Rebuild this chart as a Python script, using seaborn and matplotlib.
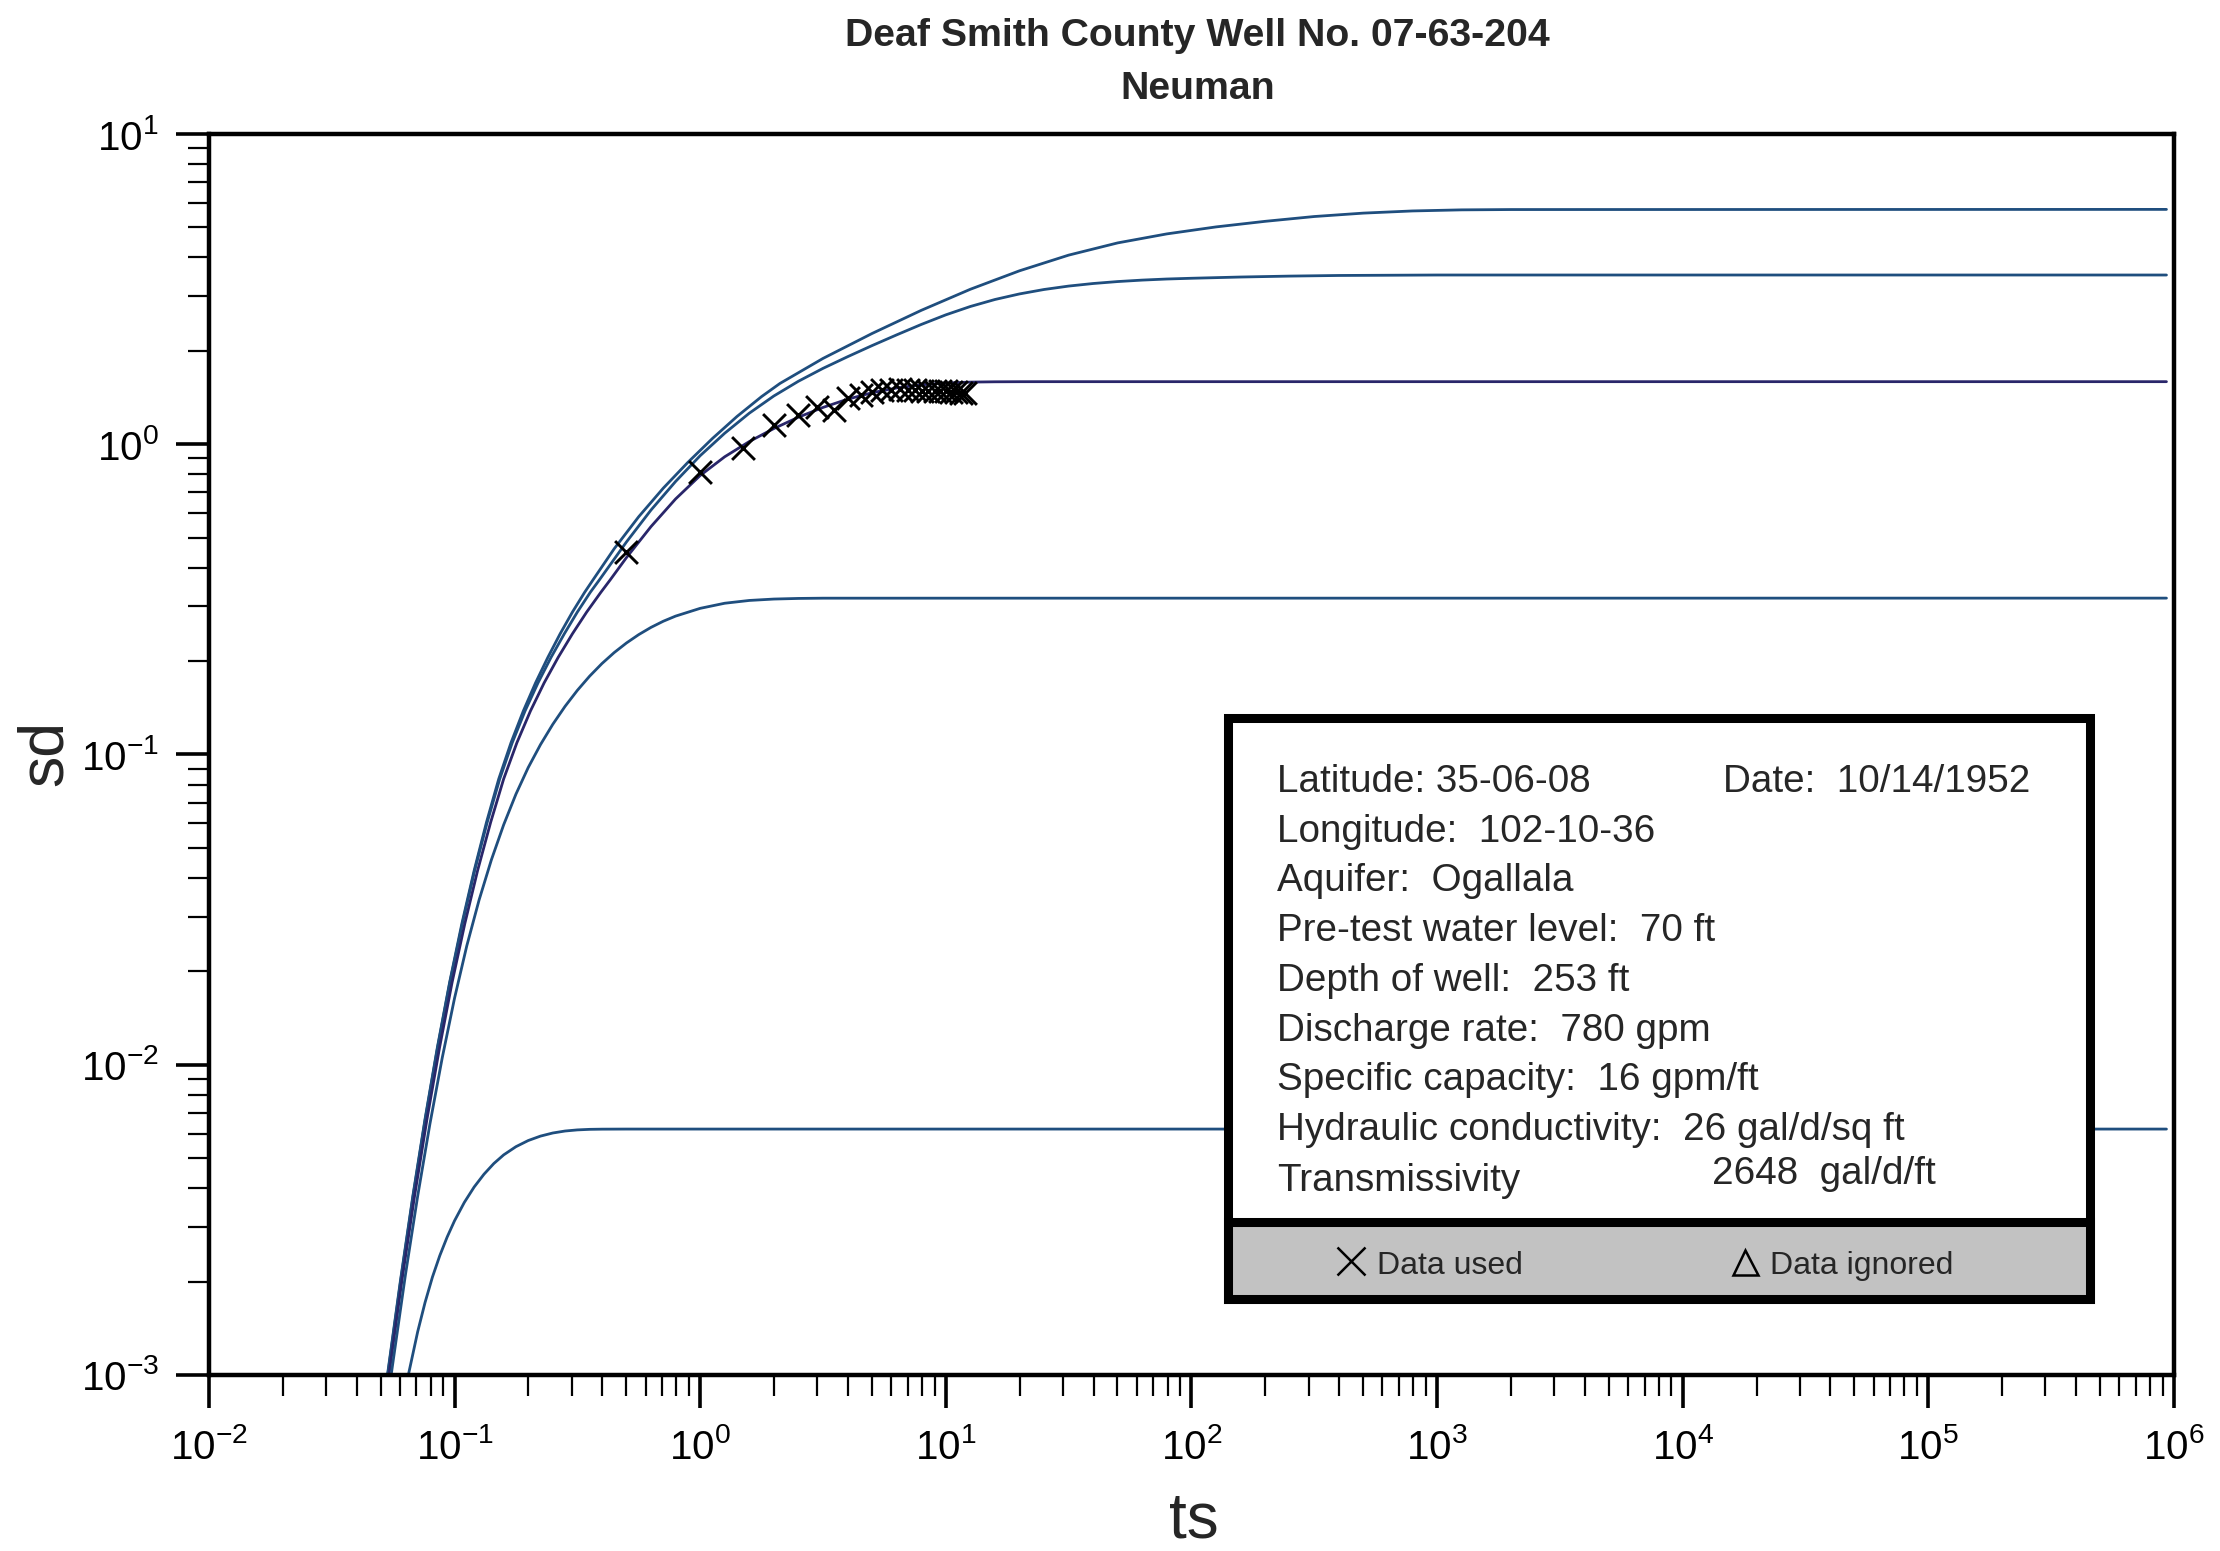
import numpy as np
import pandas as pd
import seaborn as sns
import matplotlib
matplotlib.use('Agg')
import matplotlib.pyplot as plt
from matplotlib.lines import Line2D
from matplotlib.patches import Rectangle
from matplotlib.ticker import LogLocator, NullFormatter

sns.set_theme(style='ticks')
plt.rcParams['font.family'] = ['Liberation Sans', 'DejaVu Sans']
plt.rcParams['axes.unicode_minus'] = False

lg_ts_a = [-1.273, -1.22, -1.17, -1.12, -1.07, -1.02, -0.97, -0.92, -0.87, -0.82, -0.77, -0.72, -0.67, -0.62,
           -0.57, -0.52, -0.47, -0.436, -0.35, -0.25, -0.15, -0.05, 0.05, 0.15, 0.25, 0.325, 0.5, 0.7, 0.9,
           1.1, 1.3, 1.5, 1.7, 1.9, 2.1, 2.3, 2.5, 2.7, 2.9, 3.1, 3.3, 5.97]
lg_sd_a = [-3.0, -2.695, -2.425, -2.175, -1.945, -1.735, -1.545, -1.374, -1.219, -1.079, -0.962, -0.860, -0.769,
           -0.687, -0.611, -0.541, -0.477, -0.437, -0.337, -0.2335, -0.1415, -0.0585, 0.0185, 0.0895, 0.1535,
           0.196, 0.2765, 0.357, 0.4315, 0.4995, 0.559, 0.6095, 0.649, 0.678, 0.7005, 0.7185, 0.734, 0.745,
           0.752, 0.7555, 0.7565, 0.757]

lg_ts_b = [-1.272, -1.219, -1.169, -1.119, -1.069, -1.019, -0.968, -0.918, -0.867, -0.816, -0.765, -0.713,
           -0.660, -0.607, -0.553, -0.500, -0.447, -0.410, -0.3, -0.2, -0.1, 0.0, 0.1, 0.2, 0.3, 0.4, 0.5, 0.6,
           0.7, 0.8, 0.9, 1.0, 1.1, 1.2, 1.3, 1.4, 1.5, 1.6, 1.7, 1.8, 1.9, 2.0, 2.2, 2.4, 2.6, 3.0, 5.97]
lg_sd_b = [-3.0, -2.695, -2.425, -2.175, -1.945, -1.735, -1.545, -1.374, -1.219, -1.079, -0.962, -0.860, -0.769,
           -0.687, -0.611, -0.541, -0.477, -0.437, -0.315, -0.212, -0.120, -0.037, 0.0355, 0.100, 0.1555,
           0.203, 0.2445, 0.282, 0.318, 0.3525, 0.386, 0.417, 0.444, 0.4665, 0.4845, 0.4988, 0.5098, 0.5181,
           0.5244, 0.5291, 0.5326, 0.535, 0.539, 0.542, 0.544, 0.5455, 0.5455]

lg_ts_c = [-1.267, -1.214, -1.163, -1.112, -1.061, -1.010, -0.958, -0.906, -0.853, -0.800, -0.746, -0.691,
           -0.635, -0.578, -0.520, -0.462, -0.404, -0.366, -0.3, -0.2, -0.1, 0.0, 0.1, 0.2, 0.3, 0.4, 0.5, 0.6,
           0.7, 0.8, 0.9, 1.0, 1.1, 1.2, 1.3, 1.4, 5.97]
lg_sd_c = [-3.0, -2.695, -2.425, -2.175, -1.945, -1.735, -1.545, -1.374, -1.219, -1.079, -0.962, -0.860, -0.769,
           -0.687, -0.611, -0.541, -0.477, -0.437, -0.3654, -0.2654, -0.1764, -0.1009, -0.0404, 0.0086, 0.0506,
           0.0871, 0.1186, 0.1451, 0.1661, 0.1814, 0.1916, 0.1975, 0.2003, 0.2013, 0.2016, 0.2017, 0.2017]

lg_ts_d = [-1.258, -1.2, -1.15, -1.1, -1.05, -1.0, -0.95, -0.9, -0.85, -0.8, -0.75, -0.7, -0.65, -0.6, -0.55,
           -0.5, -0.45, -0.4, -0.35, -0.3, -0.25, -0.2, -0.15, -0.1, 0.0, 0.1, 0.2, 0.3, 0.4, 0.5, 5.97]
lg_sd_d = [-3.0, -2.678, -2.4235, -2.1902, -1.9777, -1.7859, -1.6166, -1.4691, -1.3398, -1.2268, -1.128,
           -1.0422, -0.9682, -0.9029, -0.8449, -0.7934, -0.7476, -0.7071, -0.6716, -0.6406, -0.6136, -0.5903,
           -0.5705, -0.554, -0.529, -0.5125, -0.5035, -0.499, -0.497, -0.4962, -0.496]

lg_ts_e = [-1.188, -1.15, -1.12, -1.09, -1.06, -1.03, -1.0, -0.96, -0.92, -0.88, -0.84, -0.8, -0.75, -0.7,
           -0.65, -0.6, -0.55, -0.5, -0.45, -0.4, -0.3, 5.97]
lg_sd_e = [-3.0, -2.8607, -2.7665, -2.6847, -2.6154, -2.5555, -2.5031, -2.4437, -2.3941, -2.3529, -2.3185,
           -2.2907, -2.2642, -2.2444, -2.2301, -2.2201, -2.2137, -2.2101, -2.2083, -2.2077, -2.2074, -2.2074]

# observed drawdown (data used)
ts_obs = [0.5, 1.0, 1.5, 2.0, 2.5, 3.0, 3.5, 4.0, 4.5, 5.0, 5.5, 6.0,
          6.5, 7.0, 7.5, 8.0, 8.5, 9.0, 9.5, 10.0, 10.5, 11.0, 11.5, 12.0]
sd_obs = [0.45, 0.815, 0.97, 1.15, 1.24, 1.32, 1.29, 1.41, 1.44, 1.47, 1.50, 1.50,
          1.51, 1.50, 1.50, 1.49, 1.49, 1.49, 1.48, 1.48, 1.47, 1.47, 1.46, 1.46]

x_ticks = [1e-2, 1e-1, 1e0, 1e1, 1e2, 1e3, 1e4, 1e5, 1e6]
y_ticks = [1e-3, 1e-2, 1e-1, 1e0, 1e1]

info_lines = ['Latitude: 35-06-08', 'Longitude:  102-10-36', 'Aquifer:  Ogallala',
              'Pre-test water level:  70 ft', 'Depth of well:  253 ft', 'Discharge rate:  780 gpm',
              'Specific capacity:  16 gpm/ft', 'Hydraulic conductivity:  26 gal/d/sq ft', 'Transmissivity']

frames = []
for name, lx, ly in [('A', lg_ts_a, lg_sd_a), ('B', lg_ts_b, lg_sd_b), ('C', lg_ts_c, lg_sd_c),
                     ('D', lg_ts_d, lg_sd_d), ('E', lg_ts_e, lg_sd_e)]:
    frames.append(pd.DataFrame({'ts': 10 ** np.array(lx), 'sd': 10 ** np.array(ly), 'curve': name}))
curves = pd.concat(frames, ignore_index=True)
obs = pd.DataFrame({'ts': ts_obs, 'sd': sd_obs})

blue = '#1f4e7e'
navy = '#29266a'
pal = {'A': blue, 'B': blue, 'C': navy, 'D': blue, 'E': blue}

fig = plt.figure(figsize=(22.2, 15.51), dpi=100)
fig.patch.set_facecolor('white')
ax = fig.add_axes([0.0941, 0.1135, 0.8851, 0.8001])
ax.set_xscale('log')
ax.set_yscale('log')

sns.lineplot(data=curves, x='ts', y='sd', hue='curve', palette=pal, estimator=None, sort=False,
             linewidth=2, legend=False, ax=ax)
sns.scatterplot(data=obs, x='ts', y='sd', marker='x', color='black', s=270, linewidth=2.1,
                legend=False, ax=ax, zorder=5)

ax.set_xlim(1e-2, 1e6)
ax.set_ylim(1e-3, 1e1)
ax.set_facecolor('white')
for sp in ax.spines.values():
    sp.set_visible(True)
    sp.set_linewidth(3.2)
    sp.set_color('black')

ax.set_xticks(x_ticks)
ax.set_yticks(y_ticks)
ax.xaxis.set_minor_locator(LogLocator(base=10, subs=np.arange(2, 10), numticks=200))
ax.yaxis.set_minor_locator(LogLocator(base=10, subs=np.arange(2, 10), numticks=200))
ax.xaxis.set_minor_formatter(NullFormatter())
ax.yaxis.set_minor_formatter(NullFormatter())
ax.set_xlim(1e-2, 1e6)
ax.set_ylim(1e-3, 1e1)
narrow = ['Liberation Sans Narrow', 'Liberation Sans']
ax.tick_params(which='major', direction='out', length=24, width=2.6, color='black',
               labelsize=29, pad=14, top=False, right=False, labelcolor='black',
               labelfontfamily=narrow)
ax.tick_params(axis='y', which='major', pad=12)
ax.tick_params(which='minor', direction='out', length=15, width=1.6, color='black', top=False, right=False)
ax.set_xlabel('')
ax.set_ylabel('')

fig.text(0.5378, 0.0085, 'ts', ha='center', va='baseline', fontsize=46, family=narrow)
fig.text(0.0205, 0.5145, 'sd', ha='center', va='center', rotation=90, fontsize=45, family=narrow)

fig.text(0.5395, 0.9765, 'Deaf Smith County Well No. 07-63-204', ha='center', va='center',
         fontsize=28.3, fontweight='bold')
fig.text(0.5395, 0.9425, 'Neuman', ha='center', va='center', fontsize=28.3, fontweight='bold')

# info box
W, H = 2220.0, 1551.0
bx0, bx1, by_top, by_bot, by_sep = 1228 / W, 2090 / W, 1 - 718 / H, 1 - 1299 / H, 1 - 1222 / H
fig.add_artist(Rectangle((bx0, by_bot), bx1 - bx0, by_top - by_bot, transform=fig.transFigure,
                         facecolor='white', edgecolor='black', linewidth=6.5, zorder=2))
fig.add_artist(Rectangle((bx0, by_bot), bx1 - bx0, by_sep - by_bot, transform=fig.transFigure,
                         facecolor='#c2c2c2', edgecolor='black', linewidth=6.5, zorder=2))

baselines = [792, 842.5, 891.4, 940.8, 990.8, 1040.8, 1090, 1140, 1191.4]
for txt, yb in zip(info_lines, baselines):
    fig.text(1277 / W, 1 - yb / H, txt, ha='left', va='baseline', fontsize=27.8, zorder=4)
fig.text(1723 / W, 1 - 792 / H, 'Date:  10/14/1952', ha='left', va='baseline', fontsize=27.8, zorder=4)
fig.text(1712 / W, 1 - 1184.5 / H, '2648  gal/d/ft', ha='left', va='baseline', fontsize=27.8, zorder=4)

fig.add_artist(Line2D([1351 / W], [1 - 1261 / H], marker='x', markersize=20, markeredgewidth=1.8,
                      color='black', linestyle='none', transform=fig.transFigure, zorder=4))
fig.text(1377 / W, 1 - 1274 / H, 'Data used', ha='left', va='baseline', fontsize=23, zorder=4)
fig.add_artist(Line2D([1745 / W], [1 - 1262 / H], marker='^', markersize=18, markeredgewidth=1.8,
                      markerfacecolor='none', markeredgecolor='black', linestyle='none',
                      transform=fig.transFigure, zorder=4))
fig.text(1770 / W, 1 - 1274 / H, 'Data ignored', ha='left', va='baseline', fontsize=23, zorder=4)

fig.savefig('out.png', dpi=100, facecolor='white')
